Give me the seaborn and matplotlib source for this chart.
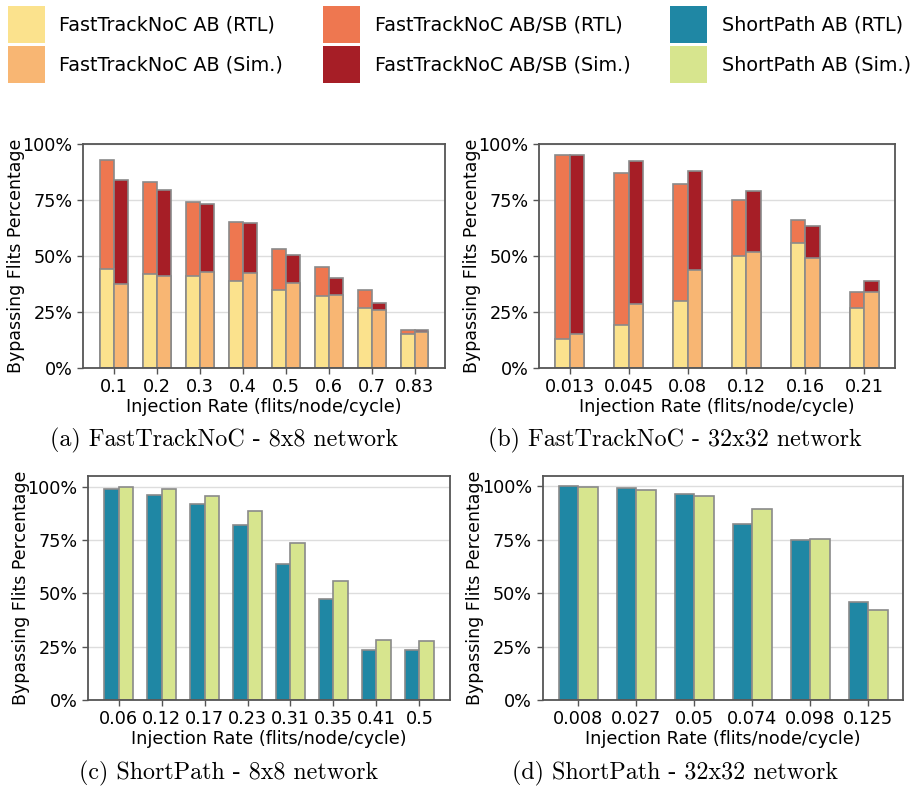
import numpy as np
import pandas as pd
import matplotlib
matplotlib.use("Agg")
import matplotlib.pyplot as plt
from matplotlib.patches import Patch
from matplotlib.ticker import PercentFormatter
import seaborn as sns

# ---------------- data ----------------
rates_a = ["0.1", "0.2", "0.3", "0.4", "0.5", "0.6", "0.7", "0.83"]
ab_rtl_a = [44, 42, 41, 39, 35, 32, 27, 15]
ab_sim_a = [37.6, 41, 42.7, 42.4, 37.8, 32.4, 26, 16]
absb_rtl_a = [93, 83, 74, 65, 53, 45, 35, 17]
absb_sim_a = [83.8, 79.5, 73.2, 64.6, 50.4, 40, 29, 16.8]

rates_b = ["0.013", "0.045", "0.08", "0.12", "0.16", "0.21"]
ab_rtl_b = [13, 19, 30, 50, 56, 27]
ab_sim_b = [15.3, 28.7, 43.9, 51.8, 49, 34]
absb_rtl_b = [95, 87, 82, 75, 66, 34]
absb_sim_b = [95, 92.6, 88, 79, 63.5, 39]

rates_c = ["0.06", "0.12", "0.17", "0.23", "0.31", "0.35", "0.41", "0.5"]
sp_rtl_c = [98.9, 96.2, 92, 82, 63.9, 47.3, 23.6, 23.6]
sp_sim_c = [100, 98.9, 95.8, 88.7, 73.6, 55.9, 28.1, 27.8]

rates_d = ["0.008", "0.027", "0.05", "0.074", "0.098", "0.125"]
sp_rtl_d = [100, 99.1, 96.2, 82.2, 75, 45.9]
sp_sim_d = [99.7, 98.3, 95.5, 89.5, 75.5, 42.2]

labels = ["FastTrackNoC AB (RTL)", "FastTrackNoC AB (Sim.)",
          "FastTrackNoC AB/SB (RTL)", "FastTrackNoC AB/SB (Sim.)",
          "ShortPath AB (RTL)", "ShortPath AB (Sim.)"]
captions = ["(a) FastTrackNoC - 8x8 network", "(b) FastTrackNoC - 32x32 network",
            "(c) ShortPath - 8x8 network", "(d) ShortPath - 32x32 network"]

# ---------------- style ----------------
C_AB_RTL = "#fbe28d"
C_AB_SIM = "#f8b673"
C_ABSB_RTL = "#ee7750"
C_ABSB_SIM = "#a61e26"
C_SP_RTL = "#1f87a4"
C_SP_SIM = "#d7e58e"
EDGE = "#8a8a8a"
SPINE = "#555555"

plt.rcParams["font.family"] = ["DejaVu Sans"]
W, H = 911, 788
fig = plt.figure(figsize=(W / 100, H / 100), dpi=100)


def add_ax(x0, x1, y0, y1):
    return fig.add_axes([x0 / W, 1 - y1 / H, (x1 - x0) / W, (y1 - y0) / H])


def style_ax(ax, rates, xlim, ylim):
    ax.set_xlim(*xlim)
    ax.set_ylim(*ylim)
    ax.set_yticks([0, 25, 50, 75, 100])
    ax.yaxis.set_major_formatter(PercentFormatter(decimals=0))
    ax.set_xticks(range(len(rates)))
    ax.set_xticklabels(rates)
    ax.set_axisbelow(True)
    ax.yaxis.grid(True, color="#dddddd", linewidth=1.0)
    ax.xaxis.grid(False)
    for s in ax.spines.values():
        s.set_color(SPINE)
        s.set_linewidth(1.3)
    ax.tick_params(axis="both", labelsize=12.7, length=4, color=SPINE, width=1)
    ax.set_xlabel("Injection Rate (flits/node/cycle)", fontsize=12.7, labelpad=1)
    ax.set_ylabel("Bypassing Flits Percentage", fontsize=12.5, labelpad=-1.5)


def long_df(rates, rtl, sim, name):
    return pd.DataFrame({
        "rate": rates + rates,
        "type": ["RTL"] * len(rates) + ["Sim"] * len(rates),
        name: list(rtl) + list(sim),
    })


def stacked(ax, rates, ab_rtl, ab_sim, absb_rtl, absb_sim, width):
    d_tot = long_df(rates, absb_rtl, absb_sim, "val")
    d_ab = long_df(rates, ab_rtl, ab_sim, "val")
    sns.barplot(data=d_tot, x="rate", y="val", hue="type", order=rates,
                hue_order=["RTL", "Sim"], palette=[C_ABSB_RTL, C_ABSB_SIM],
                width=width, errorbar=None, edgecolor=EDGE, linewidth=1.2,
                legend=False, ax=ax, saturation=1)
    sns.barplot(data=d_ab, x="rate", y="val", hue="type", order=rates,
                hue_order=["RTL", "Sim"], palette=[C_AB_RTL, C_AB_SIM],
                width=width, errorbar=None, edgecolor=EDGE, linewidth=1.2,
                legend=False, ax=ax, saturation=1)


def grouped(ax, rates, rtl, sim, width):
    d = long_df(rates, rtl, sim, "val")
    sns.barplot(data=d, x="rate", y="val", hue="type", order=rates,
                hue_order=["RTL", "Sim"], palette=[C_SP_RTL, C_SP_SIM],
                width=width, errorbar=None, edgecolor=EDGE, linewidth=1.2,
                legend=False, ax=ax, saturation=1)


ax_a = add_ax(83, 445, 144, 368)
stacked(ax_a, rates_a, ab_rtl_a, ab_sim_a, absb_rtl_a, absb_sim_a, 0.65)
style_ax(ax_a, rates_a, (-0.72, 7.71), (0, 100))

ax_b = add_ax(539, 895, 144, 368)
stacked(ax_b, rates_b, ab_rtl_b, ab_sim_b, absb_rtl_b, absb_sim_b, 0.49)
style_ax(ax_b, rates_b, (-0.52, 5.52), (0, 100))

ax_c = add_ax(88, 450, 476, 700)
grouped(ax_c, rates_c, sp_rtl_c, sp_sim_c, 0.67)
style_ax(ax_c, rates_c, (-0.71, 7.71), (0, 105))

ax_d = add_ax(542.5, 903, 475.5, 700)
grouped(ax_d, rates_d, sp_rtl_d, sp_sim_d, 0.666)
style_ax(ax_d, rates_d, (-0.62, 5.6), (0, 105))

# captions
cap_pos = [(224, 440), (675, 440), (229, 773), (675, 773)]
for (cx, cy), txt in zip(cap_pos, captions):
    fig.text(cx / W, 1 - cy / H, txt, family="cmr10", fontsize=17.3,
             ha="center", va="center")

# legend
colors = [C_AB_RTL, C_AB_SIM, C_ABSB_RTL, C_ABSB_SIM, C_SP_RTL, C_SP_SIM]
handles = [Patch(facecolor=c, edgecolor="none") for c in colors]
fig.legend(handles, labels, ncol=3, loc="upper left",
           bbox_to_anchor=(0.002, 1.0), frameon=False, fontsize=13.8,
           handlelength=1.95, handleheight=2.6, handletextpad=0.75,
           columnspacing=2.07, labelspacing=0.15, borderaxespad=0.1,
           borderpad=0.2)

fig.savefig("out.png", dpi=100)
